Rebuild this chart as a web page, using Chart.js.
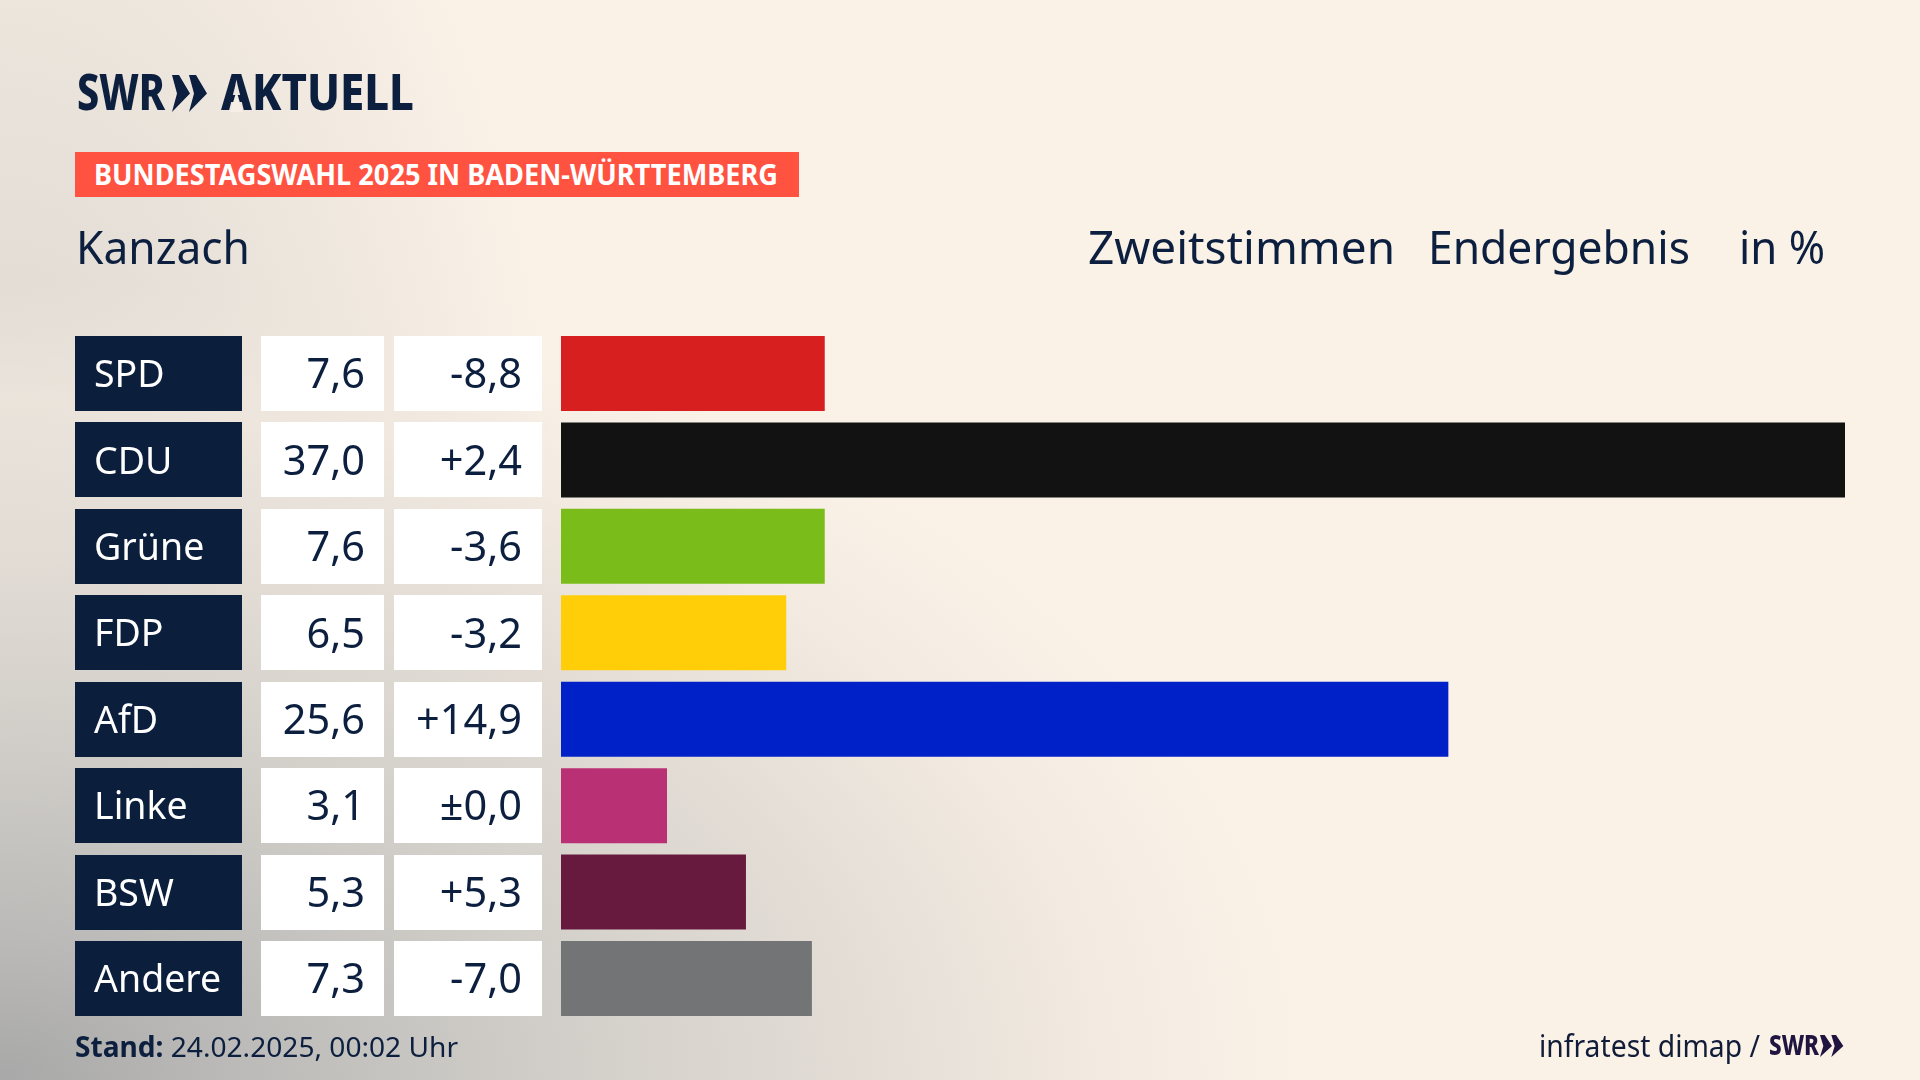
<!DOCTYPE html>
<html lang="de"><head><meta charset="utf-8">
<script src="https://cdn.jsdelivr.net/npm/chart.js@4"></script>
<style>
html,body{margin:0;padding:0;width:1920px;height:1080px;overflow:hidden}
body{position:relative;background:
 radial-gradient(ellipse 1300px 800px at 0px 1080px,#a8a8a8 0%,#bbbab8 18%,#cfccc7 40%,#e2dcd5 65%,rgba(240,232,223,.7) 85%,rgba(250,241,231,0) 100%),
 radial-gradient(ellipse 560px 1000px at 0px 600px,rgba(205,202,197,.75) 0%,rgba(250,241,231,0) 100%),
 #FAF1E7;font-family:"Noto Sans",sans-serif;color:#0C1F3F}
canvas{position:absolute;left:0;top:0}
.t{position:absolute;white-space:nowrap;transform-origin:left top;line-height:1}
</style></head><body>
<canvas id="c" width="1920" height="1080"></canvas>
<div class="t" data-w="88" style="left:77px;top:66px;font-size:50px;font-weight:800">SWR</div>
<svg style="position:absolute;left:172px;top:75px" width="36" height="37" viewBox="0 0 36 37"><path fill="#0C1F3F" d="M0 0 L7 0 L18 18.5 L0 37 L5 18.5Z M17 0 L24 0 L35 18.5 L17 37 L22 18.5Z"/></svg>
<div class="t" id="ak" data-w="193" style="left:221px;top:66px;font-size:50px;font-weight:800"><span id="aa">A</span>KTUELL</div>
<svg id="cut" style="position:absolute;left:0;top:0" width="1920" height="130"><polygon id="cutp" fill="#F7EFE6" points="0,0 0,0 0,0"/></svg>
<div style="position:absolute;left:75px;top:152px;width:724px;height:45px;background:#FF5240"></div>
<div class="t" data-w="684" style="left:94px;top:160px;font-size:28px;font-weight:700;color:#fff">BUNDESTAGSWAHL 2025 IN BADEN-WÜRTTEMBERG</div>
<div class="t" data-w="174" style="left:76px;top:224px;font-size:45px">Kanzach</div>
<div class="t" data-w="307" style="left:1088px;top:224px;font-size:45px">Zweitstimmen</div>
<div class="t" data-w="262" style="left:1428px;top:224px;font-size:45px">Endergebnis</div>
<div class="t" data-w="86" style="left:1739px;top:224px;font-size:45px">in %</div>
<div class="t" data-w="383" style="left:75px;top:1032px;font-size:28px"><b>Stand:</b> 24.02.2025, 00:02 Uhr</div>
<div class="t" data-w="221" style="left:1539px;top:1031px;font-size:30px;color:#101c38">infratest dimap /</div>
<div class="t" data-w="50" style="left:1769px;top:1029px;font-size:29px;font-weight:800;color:#1f1540">SWR</div>
<svg style="position:absolute;left:1820px;top:1035px" width="24" height="22" viewBox="0 0 36 37" preserveAspectRatio="none"><path fill="#1f1540" d="M0 0 L7 0 L18 18.5 L0 37 L5 18.5Z M17 0 L24 0 L35 18.5 L17 37 L22 18.5Z"/></svg>
<script>
const parties=["SPD","CDU","Grüne","FDP","AfD","Linke","BSW","Andere"];
const shares=[7.6,37.0,7.6,6.49,25.57,3.055,5.33,7.23];
const shareLabels=["7,6","37,0","7,6","6,5","25,6","3,1","5,3","7,3"];
const diffLabels=["-8,8","+2,4","-3,6","-3,2","+14,9","±0,0","+5,3","-7,0"];
const barColors=["#D81F1F","#121212","#7ABD1A","#FFCE08","#0020C8","#BA3074","#681A3E","#737476"];
const NAVY="#0B1E3C",INK="#0C1F3F";

const cells={id:"cells",
 beforeDraw(ch){const c=ch.ctx,y=ch.scales.y;c.save();
  parties.forEach((p,i)=>{const m=y.getPixelForValue(i),t=Math.round(m-37.5);
   c.fillStyle=NAVY;c.fillRect(75,t,167,75);
   c.fillStyle="#fff";c.fillRect(261,t,123,75);c.fillRect(394,t,148,75);});
  c.restore();},
 afterDatasetsDraw(ch){const c=ch.ctx,y=ch.scales.y;c.save();
  c.font='41.5px "Noto Sans"';c.fillStyle=INK;c.textAlign="right";c.textBaseline="middle";
  parties.forEach((p,i)=>{const m=y.getPixelForValue(i)+3;
   c.fillText(shareLabels[i],365,m);c.fillText(diffLabels[i],522,m);});
  c.restore();}};

new Chart(document.getElementById("c"),{type:"bar",
 data:{labels:parties,datasets:[{data:shares,backgroundColor:barColors,borderWidth:0,barPercentage:0.868,categoryPercentage:1}]},
 options:{indexAxis:"y",responsive:false,animation:false,devicePixelRatio:1,
  layout:{padding:{left:94,right:75,top:330.3,bottom:58.3}},
  plugins:{legend:{display:false},tooltip:{enabled:false}},
  scales:{
   x:{display:false,min:0,max:37},
   y:{grid:{display:false},border:{display:false},
      afterFit(s){s.width=467;},
      ticks:{crossAlign:"far",color:"#fff",padding:0,labelOffset:3,font:{family:"Noto Sans",size:37.5}}}}},
 plugins:[cells]});

document.fonts.ready.then(()=>{document.querySelectorAll(".t[data-w]").forEach(e=>{
  const w=e.getBoundingClientRect().width;e.style.transform="scaleX("+(+e.dataset.w/w)+")";});
  const r=document.getElementById("aa").getBoundingClientRect(),cx=r.left+r.width/2,ww=r.width;
  document.getElementById("cutp").setAttribute("points",
    `${cx},91 ${cx+ww*0.2},112 ${cx-ww*0.2},112`);
});
</script></body></html>
